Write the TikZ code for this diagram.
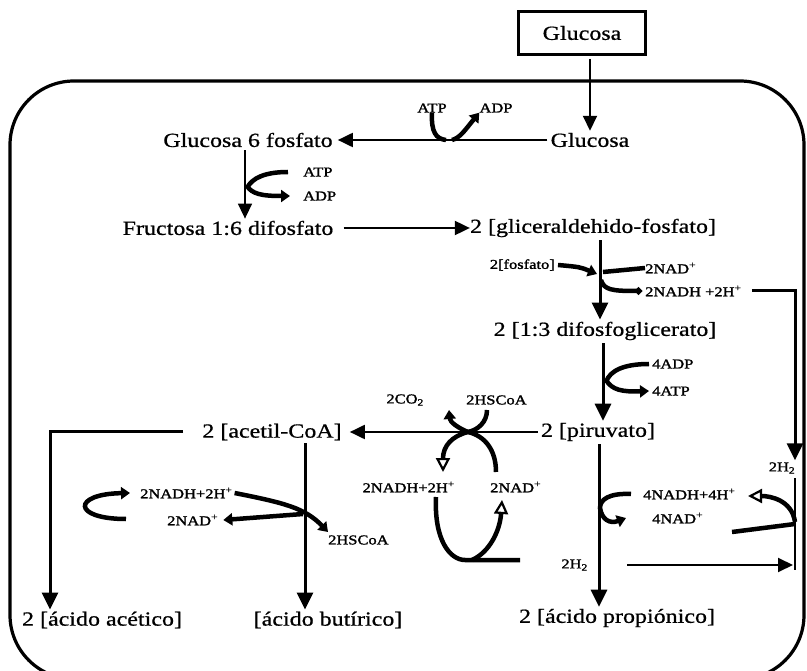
\documentclass[tikz,border=0pt]{standalone}
\usepackage{fontspec}
\setmainfont{Liberation Serif}[FakeStretch=1.2,FakeBold=0.8]
\newfontfamily\labelfont{Liberation Serif}[FakeStretch=1.22,FakeBold=1.6]
\usetikzlibrary{arrows.meta}
\begin{document}
\begin{tikzpicture}[x=1pt,y=-1pt,
  big/.style={font=\fontsize{20}{24}\selectfont, inner sep=0pt},
  sm/.style={font=\labelfont\fontsize{13.5}{15}\selectfont, inner sep=0pt},
  flow/.style={line width=2pt, -{Triangle[length=15pt,width=14pt]}, shorten >=2pt, shorten <=3pt},
  heavy/.style={line width=3pt, -{Triangle[length=17pt,width=16pt]}, shorten >=2pt, shorten <=3pt},
  cof/.style={line width=4.5pt},
  coftip/.style={line width=4.5pt, -{Triangle[length=9pt,width=12pt]}},
  opentip/.style={line width=4.5pt, -{Triangle[open,length=14pt,width=14pt,line width=2.2pt]}},
]
\useasboundingbox (0,0) rectangle (807,671);

% cell outline
\draw[line width=3.2pt, rounded corners=64pt] (10,81) rectangle (804,679);

% metabolites
\node[draw, line width=2.6pt, minimum width=127pt, minimum height=43pt, big] (src) at (582,33) {Glucosa};
\node[big] (glc) at (590,140) {Glucosa};
\node[big] (g6p) at (248,140) {Glucosa 6 fosfato};
\node[big] (f16) at (228,228) {Fructosa 1:6 difosfato};
\node[big] (gap) at (593,228) {2 [gliceraldehido-fosfato]};
\node[big] (bpg) at (605,331) {2 [1:3 difosfoglicerato]};
\node[big] (pyr) at (598,432) {2 [piruvato]};
\node[big] (acc) at (272,432) {2 [acetil-CoA]};
\node[big] (ace) at (102,620) {2 [ácido acético]};
\node[big] (but) at (328,620) {[ácido butírico]};
\node[big] (pro) at (617,618) {2 [ácido propiónico]};

% cofactor labels
\node[sm] (atpA) at (432,108) {ATP};
\node[sm] (adpA) at (496,108) {ADP};
\node[sm, anchor=west] (atpB) at (303,172) {ATP};
\node[sm, anchor=west] (adpB) at (303,196) {ADP};
\node[sm, anchor=east] (fos) at (555,265) {2[fosfato]};
\node[sm, anchor=west] (nadA) at (645,268) {2NAD\textsuperscript{+}};
\node[sm, anchor=west] (nadhA) at (645,291) {2NADH +2H\textsuperscript{+}};
\node[sm, anchor=west] (adpC) at (652,364) {4ADP};
\node[sm, anchor=west] (atpC) at (652,391) {4ATP};
\node[sm, anchor=east] (co2) at (424,400) {2CO\textsubscript{2}};
\node[sm, anchor=west] (hscM) at (466,400) {2HSCoA};
\node[sm] (h2a) at (782,468) {2H\textsubscript{2}};
\node[sm, anchor=west] (nadhL) at (140,493) {2NADH+2H\textsuperscript{+}};
\node[sm, anchor=west] (nadL) at (167,520) {2NAD\textsuperscript{+}};
\node[sm, anchor=west] (hscL) at (328,540) {2HSCoA};
\node[sm, anchor=east] (nadhM) at (455,487) {2NADH+2H\textsuperscript{+}};
\node[sm, anchor=west] (nadM) at (490,487) {2NAD\textsuperscript{+}};
\node[sm, anchor=west] (nadhR) at (643,494) {4NADH+4H\textsuperscript{+}};
\node[sm, anchor=west] (nadR) at (652,518) {4NAD\textsuperscript{+}};
\node[sm, anchor=east] (h2b) at (588,565) {2H\textsubscript{2}};

% column positions of the vertical arrows
\coordinate (xa) at (245,0);
\coordinate (xb) at (600,0);
\coordinate (xc) at (603,0);
\coordinate (xd) at (305,0);
\coordinate (xe) at (50,0);
\coordinate (xf) at (599,0);
\coordinate (xr) at (795,0);
\coordinate (cx) at (468,432);

% main pathway
\draw[flow] (glc.north |- src.south) -- (glc.north);
\draw[flow, shorten >=5pt] (glc.west) -- (g6p.east);
\draw[flow, line width=1.5pt] (g6p.south -| xa) -- (f16.north -| xa);
\draw[flow, shorten <=10pt, shorten >=0pt] (f16.east) -- (gap.west);
\draw[heavy] (gap.south -| xb) -- (bpg.north -| xb);
\draw[heavy] (bpg.south -| xc) -- (pyr.north -| xc);
\draw[flow, shorten >=8pt] (pyr.west) -- (acc.east);
\draw[heavy] (pyr.south -| xf) -- (pro.north -| xf);
\draw[heavy] (acc.south -| xd) -- (but.north -| xd);
\draw[heavy, shorten <=0pt] ([xshift=-19pt]acc.west) -| (xe |- ace.north);

% hexokinase step
\draw[cof] (atpA.south) .. controls (431,132) and (436,139) .. (446,140);
\draw[coftip] (452,140) .. controls (460,138) and (465,130) .. (adpA.south west);

% phosphofructokinase step
\draw[cof] ([xshift=-15pt]atpB.west) .. controls (265,172) and (252,178) .. (247,188);
\draw[coftip] (247,186) .. controls (252,194) and (262,196) .. ([xshift=-13pt]adpB.west);

% glyceraldehyde-phosphate dehydrogenase
\draw[coftip] ([xshift=3pt]fos.east) .. controls (580,267) .. (597,274);
\draw[cof] (nadA.west) -- (603,272);
\draw[cof, -{Circle[length=7pt]}] (601,280) .. controls (604,290) and (612,291) .. ([xshift=-3pt]nadhA.west);
\draw[heavy, shorten <=0pt] ([xshift=10pt]nadhA.east) -- (nadhA.east -| xr) -- (h2a.north -| xr);

% substrate-level phosphorylation
\draw[cof] ([xshift=-3pt]adpC.west) .. controls (625,364) and (610,370) .. (606,382);
\draw[coftip] (606,380) .. controls (612,390) and (622,392) .. ([xshift=-3pt]atpC.west);

% pyruvate to acetyl-CoA
\draw[coftip] (cx) .. controls (458,428) and (450,422) .. (449,410);
\draw[cof] (487,410) .. controls (487,422) and (478,430) .. (cx);
\draw[opentip] (cx) .. controls (452,436) and (443,446) .. (443,472);
\draw[cof] (436,497) .. controls (434,540) and (450,560) .. (465,560) -- (520,560);
\draw[opentip] (472,560) .. controls (490,552) and (500,530) .. (502,500);
\draw[cof] (496,472) .. controls (496,450) and (485,436) .. (cx);

% butyrate branch
\draw[coftip] (126,519) .. controls (72,519) and (72,494) .. ([xshift=-10pt]nadhL.west);
\draw[coftip] ([xshift=2pt]nadhL.east) .. controls (285,503) and (305,508) .. (328,532);
\draw[coftip] (303,514) -- ([xshift=5pt]nadL.east);

% propionate branch
\draw[coftip] ([xshift=-12pt]nadhR.west) .. controls (608,493) and (600,500) .. (600,508)
  .. controls (602,520) and (610,524) .. ([xshift=-26pt]nadR.west);
\draw[opentip] (795,522) .. controls (792,500) and (770,496) .. (748,496);
\draw[cof] (732,532) -- (795,524);
\draw[line width=1.8pt] (795,478) -- (795,570);
\draw[flow, shorten <=0pt] ([xshift=39pt]h2b.east) -- (h2b.east -| xr);
\end{tikzpicture}
\end{document}
